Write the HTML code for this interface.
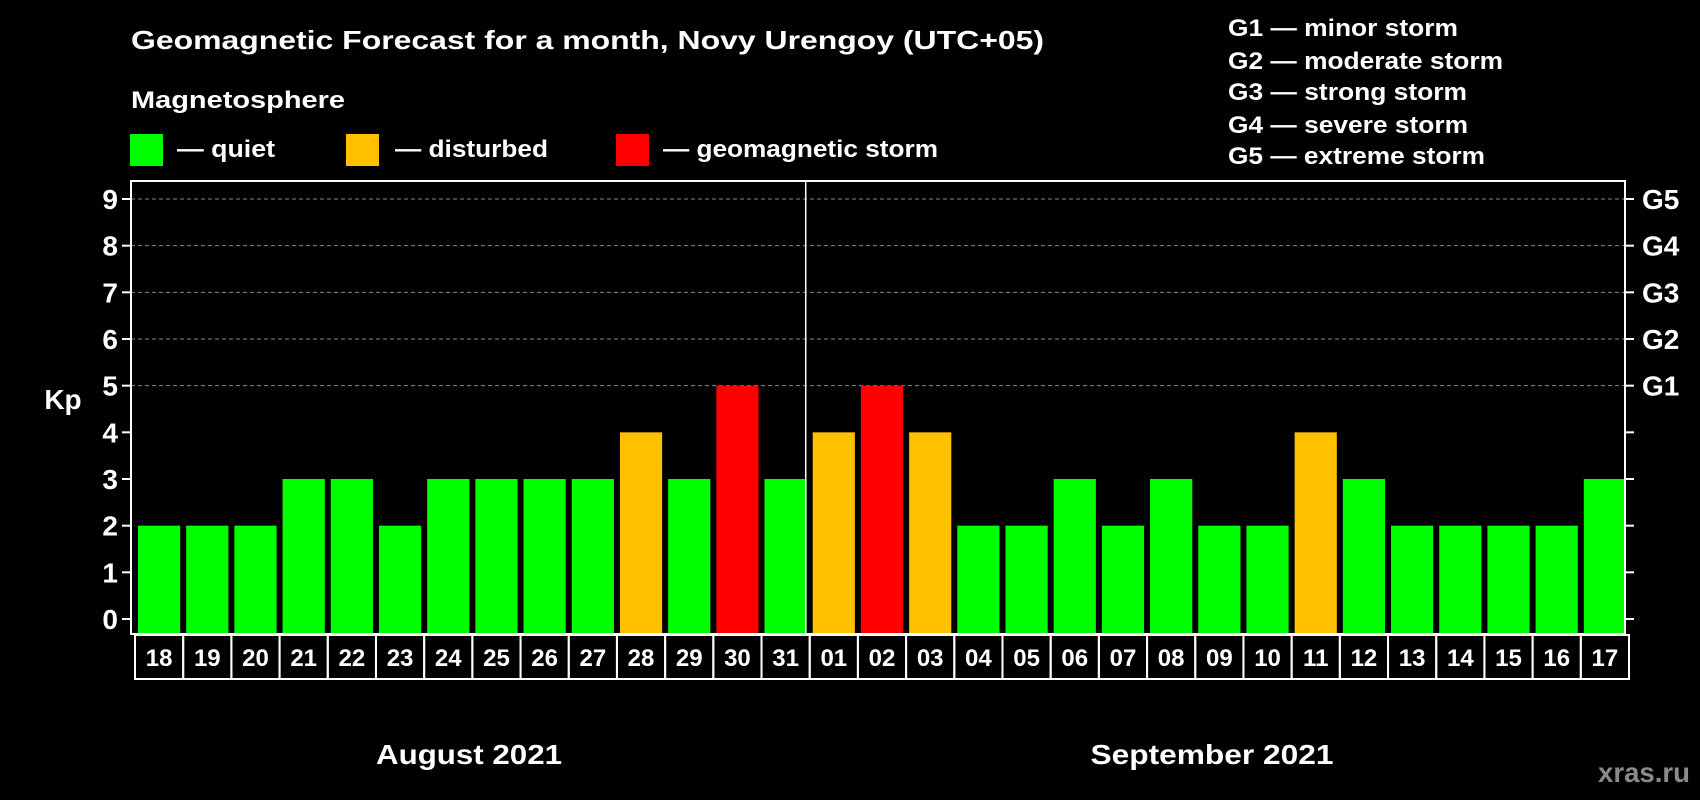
<!DOCTYPE html>
<html><head><meta charset="utf-8"><style>
html,body{margin:0;padding:0;background:#000;}
svg{display:block;font-family:"Liberation Sans",Arial,sans-serif;font-weight:bold;}
svg text{font-family:"Liberation Sans",Arial,sans-serif;font-weight:bold;}
</style></head><body>
<svg id="chart" width="1700" height="800" viewBox="0 0 1700 800" xmlns="http://www.w3.org/2000/svg">
<rect width="1700" height="800" fill="#000"/>
<text x="131" y="49" fill="#fff" font-size="26" textLength="913" lengthAdjust="spacingAndGlyphs">Geomagnetic Forecast for a month, Novy Urengoy (UTC+05)</text>
<text x="131" y="108" fill="#fff" font-size="24" textLength="214" lengthAdjust="spacingAndGlyphs">Magnetosphere</text>
<g><rect x="130" y="134" width="33" height="32" fill="#00ff00"/><text x="177" y="157" fill="#fff" font-size="24" textLength="98" lengthAdjust="spacingAndGlyphs">— quiet</text></g>
<g><rect x="346" y="134" width="33" height="32" fill="#ffc000"/><text x="395" y="157" fill="#fff" font-size="24" textLength="153" lengthAdjust="spacingAndGlyphs">— disturbed</text></g>
<g><rect x="616" y="134" width="33" height="32" fill="#ff0000"/><text x="663" y="157" fill="#fff" font-size="24" textLength="275" lengthAdjust="spacingAndGlyphs">— geomagnetic storm</text></g>
<g fill="#fff" font-size="24">
<text x="1228" y="36" textLength="230" lengthAdjust="spacingAndGlyphs">G1 — minor storm</text>
<text x="1228" y="69" textLength="275" lengthAdjust="spacingAndGlyphs">G2 — moderate storm</text>
<text x="1228" y="100" textLength="239" lengthAdjust="spacingAndGlyphs">G3 — strong storm</text>
<text x="1228" y="133" textLength="240" lengthAdjust="spacingAndGlyphs">G4 — severe storm</text>
<text x="1228" y="164" textLength="257" lengthAdjust="spacingAndGlyphs">G5 — extreme storm</text>
</g>
<g id="plot"></g>
<text x="63" y="409" fill="#fff" font-size="28" text-anchor="middle">Kp</text>
<text x="469" y="764" fill="#fff" font-size="28" text-anchor="middle" textLength="186" lengthAdjust="spacingAndGlyphs">August 2021</text>
<text x="1212" y="764" fill="#fff" font-size="28" text-anchor="middle" textLength="243" lengthAdjust="spacingAndGlyphs">September 2021</text>
<text x="1690" y="782" fill="#8a8a8a" font-size="28" text-anchor="end" textLength="92" lengthAdjust="spacingAndGlyphs">xras.ru</text>
</svg>
<script>
const days = ["18","19","20","21","22","23","24","25","26","27","28","29","30","31","01","02","03","04","05","06","07","08","09","10","11","12","13","14","15","16","17"];
const kpValues = [2,2,2,3,3,2,3,3,3,3,4,3,5,3,4,5,4,2,2,3,2,3,2,2,4,3,2,2,2,2,3];
const yTicks = [0,1,2,3,4,5,6,7,8,9];
const gLabels = ["G1","G2","G3","G4","G5"];
const gLevels = [5,6,7,8,9];
const NS="http://www.w3.org/2000/svg";
const L=131,R=1625,T=181,B=634,Y0=619,Y9=199;
const y=v=>Y0-(Y0-Y9)*v/9;
const slot=(R-L)/days.length;
const x=i=>L+i*slot;
const g=document.getElementById('plot');
function mk(tag,a){const e=document.createElementNS(NS,tag);for(const k in a)e.setAttribute(k,a[k]);g.appendChild(e);return e;}
gLevels.forEach(v=>{
 const e=mk('line',{x1:L,x2:R,y1:y(v),y2:y(v),stroke:'#888','stroke-width':1,'stroke-dasharray':'4,3'});
 
 
});
kpValues.forEach((v,i)=>{
 const col=v>=5?'#ff0000':(v>=4?'#ffc000':'#00ff00');
 const e=mk('rect',{x:x(i)+7,y:y(v),width:slot-6,height:B-y(v),fill:col});
 
 
 const b=mk('rect',{x:x(i)+4,y:635,width:slot,height:44,fill:'none',stroke:'#fff','stroke-width':2});
 
 
 const t=mk('text',{x:x(i)+4+slot/2,y:666,fill:'#fff','font-size':24,'text-anchor':'middle'});
 t.textContent=days[i];
 
 
});
const f=mk('rect',{x:L,y:T,width:R-L,height:B-T,fill:'none',stroke:'#fff','stroke-width':2});


const sepIdx=days.indexOf("01");
const s=mk('line',{x1:x(sepIdx),x2:x(sepIdx),y1:T,y2:B,stroke:'#fff','stroke-width':1.5});


yTicks.forEach(v=>{
 mk('line',{x1:L-9,x2:L,y1:y(v),y2:y(v),stroke:'#fff','stroke-width':2});
 mk('line',{x1:R,x2:R+9,y1:y(v),y2:y(v),stroke:'#fff','stroke-width':2});
 const t=mk('text',{x:118,y:y(v)+10,fill:'#fff','font-size':28,'text-anchor':'end'});
 t.textContent=v;
 
 
});
gLabels.forEach((lab,i)=>{
 const t=mk('text',{x:1642,y:y(gLevels[i])+10,fill:'#fff','font-size':28});
 t.textContent=lab;
 
 
});
</script>
</body></html>
